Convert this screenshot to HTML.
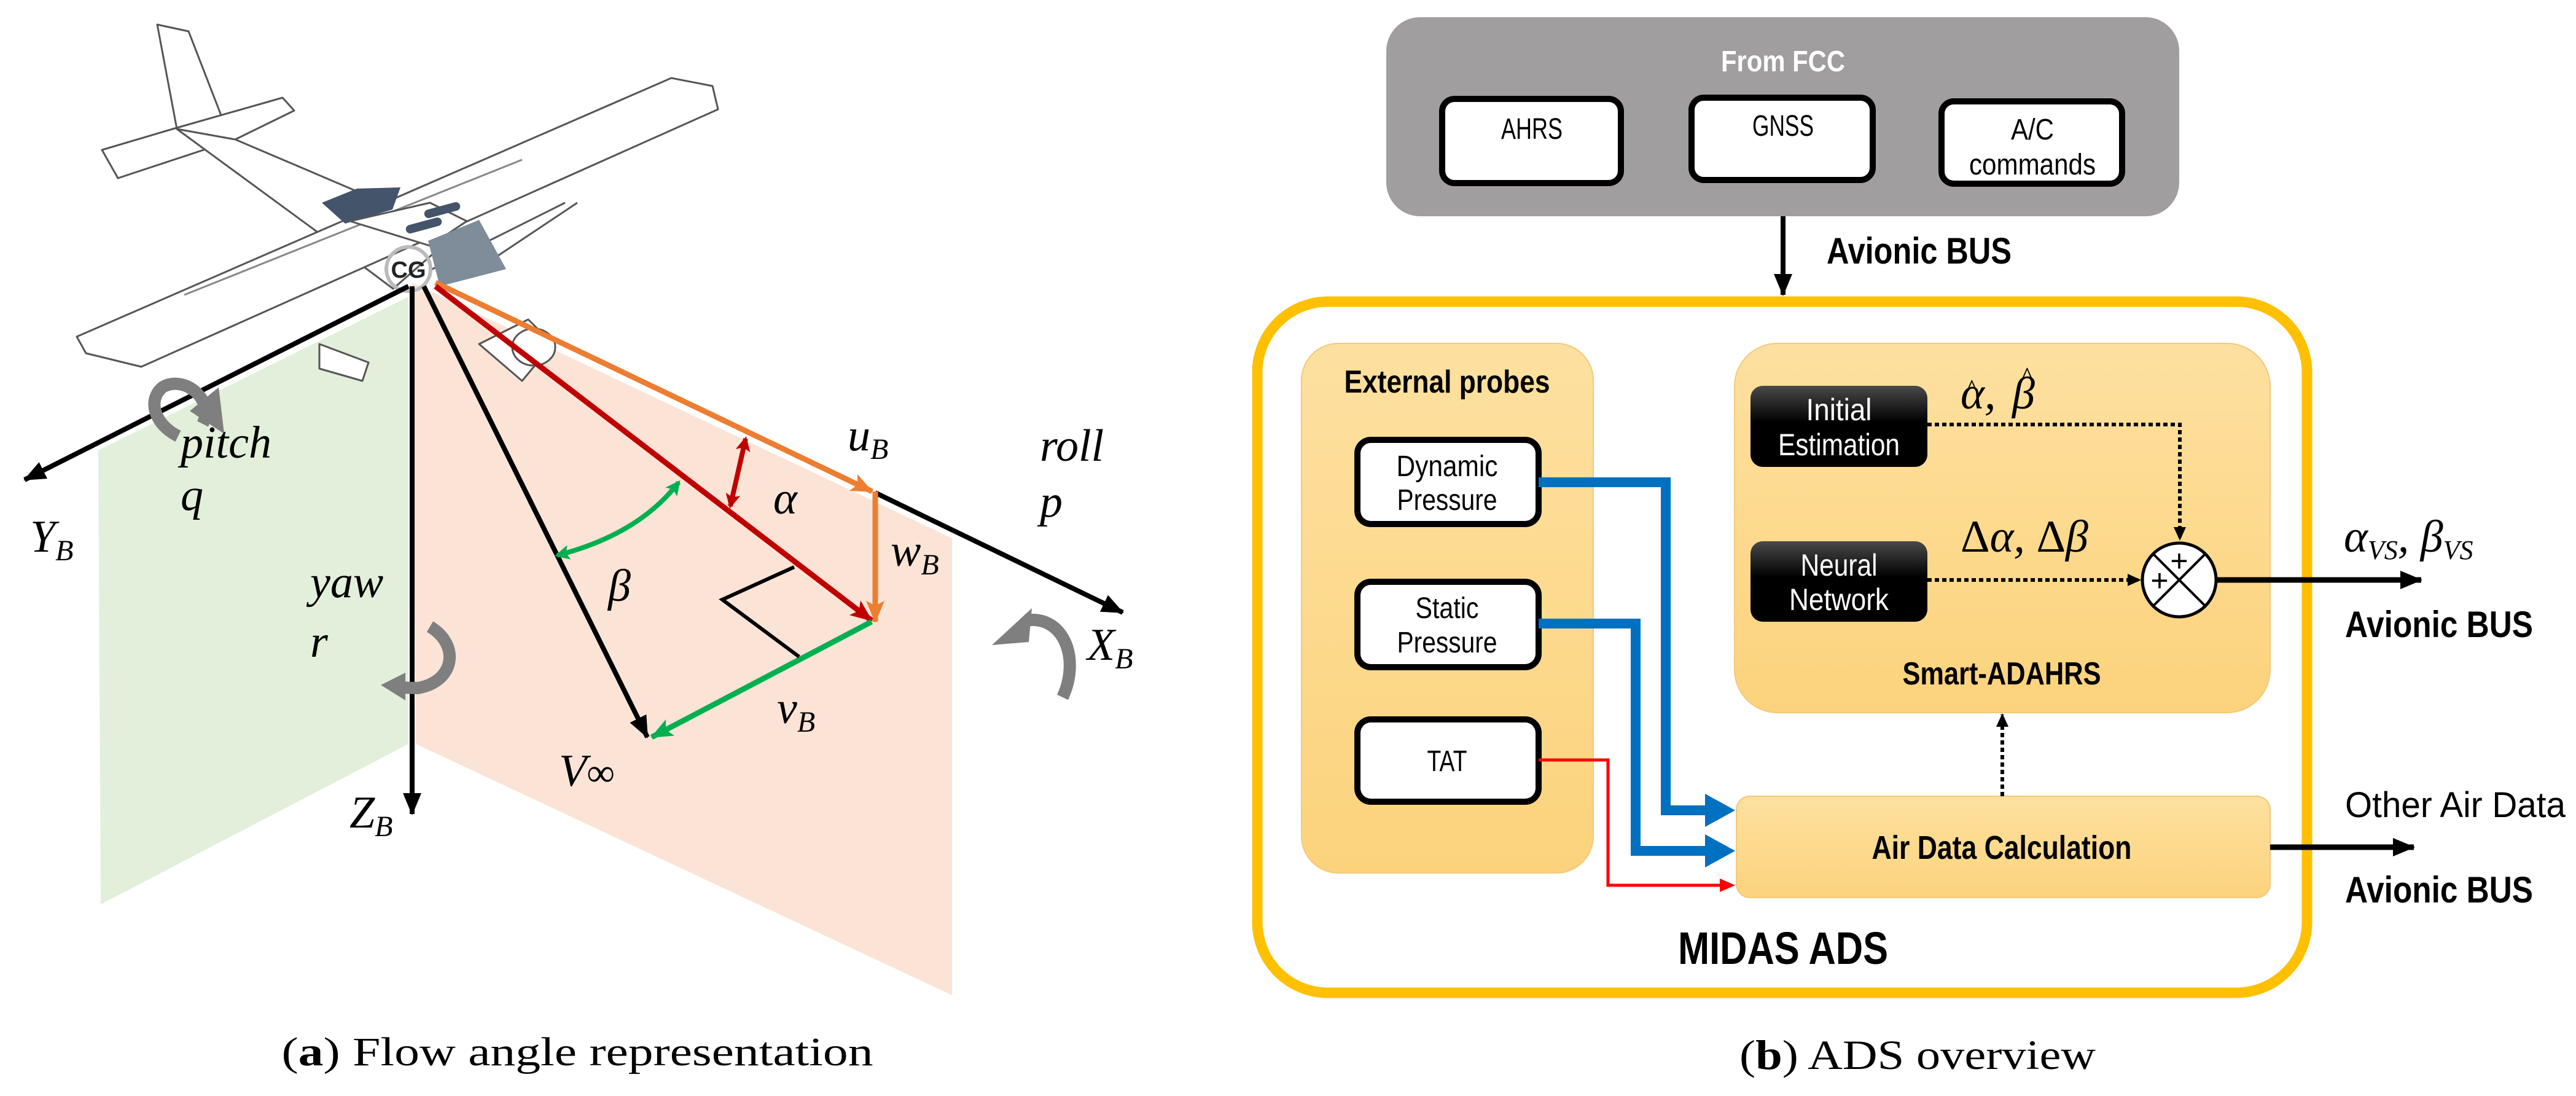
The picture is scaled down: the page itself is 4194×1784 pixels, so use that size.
<!DOCTYPE html>
<html><head><meta charset="utf-8"><style>
html,body{margin:0;padding:0;background:#fff;}
svg{display:block;}
.m{font-family:"Liberation Serif",serif;font-style:italic;font-size:74px;fill:#000;}
.s{font-family:"Liberation Sans",sans-serif;}
</style></head><body>
<svg width="4194" height="1784" viewBox="0 0 4194 1784" xmlns="http://www.w3.org/2000/svg">
<defs>
<marker id="ak" markerUnits="userSpaceOnUse" markerWidth="40" markerHeight="40" refX="34" refY="15" orient="auto"><path d="M0,0 L36,15 L0,30 Z" fill="#000"/></marker>
<marker id="ao" markerUnits="userSpaceOnUse" markerWidth="40" markerHeight="40" refX="34" refY="15" orient="auto"><path d="M0,0 L36,15 L0,30 L8,15 Z" fill="#ed7d31"/></marker>
<marker id="ar" markerUnits="userSpaceOnUse" markerWidth="40" markerHeight="40" refX="34" refY="15" orient="auto"><path d="M0,0 L36,15 L0,30 L8,15 Z" fill="#c00000"/></marker>
<marker id="ar2" markerUnits="userSpaceOnUse" markerWidth="40" markerHeight="40" refX="20" refY="12" orient="auto-start-reverse"><path d="M0,0 L24,12 L0,24 L5,12 Z" fill="#c00000"/></marker>
<marker id="ag" markerUnits="userSpaceOnUse" markerWidth="40" markerHeight="40" refX="34" refY="15" orient="auto"><path d="M0,0 L36,15 L0,30 L8,15 Z" fill="#00b050"/></marker>
<marker id="ag2" markerUnits="userSpaceOnUse" markerWidth="40" markerHeight="40" refX="20" refY="12" orient="auto-start-reverse"><path d="M0,0 L24,12 L0,24 L5,12 Z" fill="#00b050"/></marker>
<marker id="ad" markerUnits="userSpaceOnUse" markerWidth="30" markerHeight="30" refX="20" refY="10" orient="auto"><path d="M0,0 L22,10 L0,20 Z" fill="#000"/></marker>
<linearGradient id="yp" x1="0" y1="0" x2="0" y2="1"><stop offset="0" stop-color="#fde0a0"/><stop offset="1" stop-color="#fcd37c"/></linearGradient>
<linearGradient id="bk" x1="0" y1="0" x2="0" y2="1"><stop offset="0" stop-color="#4a4a4a"/><stop offset="0.45" stop-color="#000"/><stop offset="1" stop-color="#000"/></linearGradient>
</defs>

<!-- LEFT PANEL -->
<polygon points="160,733 665,483 665,1211 164,1472" fill="#e2efda"/>
<polygon points="671,460 1550,876 1550,1620 677,1211" fill="#fbe4d6"/>

<!-- airplane -->
<g stroke="#555" stroke-width="3" fill="#fff" stroke-linejoin="round">
<polygon points="256,40 307,51 371,216 288,210"/>
<polygon points="166,244 281,210 460,159 479,180 383,227 192,290"/>
<polygon points="288,210 383,227 660,345 720,400 640,470 520,380"/>
<polygon points="125,548 1093,127 1160,140 1169,178 230,597 140,575"/>
<line x1="300" y1="480" x2="850" y2="260" stroke="#888"/>
<line x1="700" y1="440" x2="920" y2="330" stroke="#555"/>
<line x1="760" y1="450" x2="940" y2="330" stroke="#555"/>
<path d="M780,560 L860,520 L900,560 L850,620 Z"/>
<ellipse cx="869" cy="565" rx="35" ry="30"/>
<path d="M520,560 L600,590 L590,620 L520,600 Z"/>
</g>
<polygon points="524,330 581,307 652,305 639,341 562,364" fill="#44546a"/>
<polygon points="570,360 700,330 760,360 700,400" fill="#fff" stroke="#555" stroke-width="3"/>
<rect x="660" y="360" width="60" height="14" rx="7" fill="#44546a" transform="rotate(-15 690 367)"/>
<rect x="690" y="335" width="60" height="14" rx="7" fill="#44546a" transform="rotate(-15 720 342)"/>
<polygon points="697,392 780,358 824,438 716,466" fill="#7f8c99"/>
<circle cx="665" cy="438" r="36" fill="none" stroke="#bbb" stroke-width="6"/>
<text x="665" y="452" text-anchor="middle" class="s" font-weight="bold" font-size="38" fill="#222">CG</text>

<!-- axes -->
<line x1="665" y1="466" x2="40" y2="781" stroke="#000" stroke-width="8" marker-end="url(#ak)"/>
<line x1="671" y1="466" x2="671" y2="1325" stroke="#000" stroke-width="8" marker-end="url(#ak)"/>
<line x1="1425" y1="802" x2="1828" y2="997" stroke="#000" stroke-width="8" marker-end="url(#ak)"/>
<line x1="690" y1="466" x2="1054" y2="1200" stroke="#000" stroke-width="8" marker-end="url(#ak)"/>
<line x1="709" y1="460" x2="1420" y2="800" stroke="#ed7d31" stroke-width="9" marker-end="url(#ao)"/>
<line x1="1425" y1="800" x2="1425" y2="1012" stroke="#ed7d31" stroke-width="9" marker-end="url(#ao)"/>
<line x1="709" y1="466" x2="1419" y2="1010" stroke="#c00000" stroke-width="9" marker-end="url(#ar)"/>
<line x1="1419" y1="1012" x2="1061" y2="1200" stroke="#00b050" stroke-width="9" marker-end="url(#ag)"/>
<polyline points="1293,923 1176,976 1301,1069" fill="none" stroke="#000" stroke-width="6"/>
<line x1="1214" y1="714" x2="1189" y2="824" stroke="#c00000" stroke-width="8" marker-start="url(#ar2)" marker-end="url(#ar2)"/>
<path d="M1105,785 Q1040,870 907,904" fill="none" stroke="#00b050" stroke-width="8" marker-start="url(#ag2)" marker-end="url(#ag2)"/>

<!-- rotation arrows -->
<g fill="none" stroke="#7f7f7f" stroke-width="20">
<path d="M330,690 C350,650 300,610 265,630 C240,650 250,690 290,710"/>
<path d="M700,1020 C750,1050 740,1110 680,1120 C650,1120 640,1115 640,1115"/>
<path d="M1730,1135 C1760,1070 1730,1000 1670,1010"/>
</g>
<polygon points="350,710 380,640 320,650" fill="#7f7f7f" transform="rotate(-30 350 680)"/>
<polygon points="660,1095 620,1115 660,1140" fill="#7f7f7f"/>
<polygon points="1680,990 1615,1050 1675,1045" fill="#7f7f7f"/>

<!-- left labels -->
<text class="m" x="294" y="745">pitch</text>
<text class="m" x="294" y="830">q</text>
<text class="m" x="505" y="972">yaw</text>
<text class="m" x="505" y="1069">r</text>
<text class="m" x="49" y="898">Y<tspan font-size="48" dy="14">B</tspan></text>
<text class="m" x="569" y="1347">Z<tspan font-size="48" dy="14">B</tspan></text>
<text class="m" x="1770" y="1074">X<tspan font-size="48" dy="14">B</tspan></text>
<text class="m" x="1693" y="750">roll</text>
<text class="m" x="1693" y="841">p</text>
<text class="m" x="1380" y="733">u<tspan font-size="48" dy="14">B</tspan></text>
<text class="m" x="1450" y="921">w<tspan font-size="48" dy="14">B</tspan></text>
<text class="m" x="1265" y="1177">v<tspan font-size="48" dy="14">B</tspan></text>
<text class="m" x="1259" y="836">α</text>
<text class="m" x="990" y="978">β</text>
<text class="m" x="910" y="1279">V<tspan font-style="normal" font-size="64">∞</tspan></text>
<text x="940" y="1734" text-anchor="middle" font-family="Liberation Serif,serif" font-size="66" textLength="963" lengthAdjust="spacingAndGlyphs">(<tspan font-weight="bold">a</tspan>) Flow angle representation</text>

<!-- RIGHT PANEL -->
<rect x="2257" y="28" width="1291" height="324" rx="55" fill="#a09e9f"/>
<text x="2903" y="116" text-anchor="middle" class="s" font-weight="bold" font-size="48" fill="#fff" textLength="202" lengthAdjust="spacingAndGlyphs">From FCC</text>
<g fill="#fff" stroke="#000" stroke-width="10">
<rect x="2348" y="161" width="291" height="137" rx="20"/>
<rect x="2754" y="159" width="295" height="134" rx="20"/>
<rect x="3161" y="165" width="294" height="134" rx="20"/>
</g>
<g class="s" font-size="48" text-anchor="middle">
<text x="2494" y="226" textLength="100" lengthAdjust="spacingAndGlyphs">AHRS</text>
<text x="2903" y="221" textLength="100" lengthAdjust="spacingAndGlyphs">GNSS</text>
<text x="3309" y="227" textLength="70" lengthAdjust="spacingAndGlyphs">A/C</text>
<text x="3309" y="284" textLength="206" lengthAdjust="spacingAndGlyphs">commands</text>
</g>
<line x1="2903" y1="352" x2="2903" y2="480" stroke="#000" stroke-width="8" marker-end="url(#ak)"/>
<text x="2974" y="429" class="s" font-weight="bold" font-size="60" textLength="301" lengthAdjust="spacingAndGlyphs">Avionic BUS</text>

<rect x="2047" y="491" width="1709" height="1125" rx="115" fill="#fff" stroke="#ffc000" stroke-width="17"/>
<rect x="2119" y="559" width="475" height="862" rx="60" fill="url(#yp)" stroke="#f5c87a" stroke-width="2"/>
<rect x="2824" y="559" width="872" height="601" rx="70" fill="url(#yp)" stroke="#f5c87a" stroke-width="2"/>
<rect x="2827" y="1296" width="869" height="165" rx="22" fill="url(#yp)" stroke="#f5c87a" stroke-width="2"/>

<text x="2356" y="639" text-anchor="middle" class="s" font-weight="bold" font-size="52" textLength="335" lengthAdjust="spacingAndGlyphs">External probes</text>
<g fill="#fff" stroke="#000" stroke-width="10">
<rect x="2210" y="716" width="295" height="137" rx="22"/>
<rect x="2210" y="947" width="295" height="139" rx="22"/>
<rect x="2210" y="1171" width="295" height="134" rx="22"/>
</g>
<g class="s" font-size="48" text-anchor="middle">
<text x="2356" y="775" textLength="165" lengthAdjust="spacingAndGlyphs">Dynamic</text>
<text x="2356" y="830" textLength="163" lengthAdjust="spacingAndGlyphs">Pressure</text>
<text x="2356" y="1006" textLength="103" lengthAdjust="spacingAndGlyphs">Static</text>
<text x="2356" y="1062" textLength="163" lengthAdjust="spacingAndGlyphs">Pressure</text>
<text x="2356" y="1255" textLength="65" lengthAdjust="spacingAndGlyphs">TAT</text>
</g>

<rect x="2850" y="628" width="288" height="132" rx="20" fill="url(#bk)"/>
<rect x="2850" y="881" width="288" height="131" rx="20" fill="url(#bk)"/>
<g class="s" font-size="50" text-anchor="middle" fill="#fff">
<text x="2994" y="684" textLength="107" lengthAdjust="spacingAndGlyphs">Initial</text>
<text x="2994" y="741" textLength="198" lengthAdjust="spacingAndGlyphs">Estimation</text>
<text x="2994" y="937" textLength="125" lengthAdjust="spacingAndGlyphs">Neural</text>
<text x="2994" y="993" textLength="162" lengthAdjust="spacingAndGlyphs">Network</text>
</g>
<text class="m" x="3192" y="665" font-size="64">α,</text>
<text x="3200" y="648" font-family="Liberation Serif,serif" font-size="44">^</text>
<text class="m" x="3276" y="665" font-size="64">β</text>
<text x="3290" y="628" font-family="Liberation Serif,serif" font-size="44">^</text>
<text class="m" x="3192" y="898" font-size="64"><tspan font-style="normal">Δ</tspan>α,  <tspan font-style="normal">Δ</tspan>β</text>
<polyline points="3138,691 3549,691 3549,878" fill="none" stroke="#000" stroke-width="6" stroke-dasharray="7,5" marker-end="url(#ad)"/>
<line x1="3138" y1="944" x2="3484" y2="944" stroke="#000" stroke-width="6" stroke-dasharray="7,5" marker-end="url(#ad)"/>
<circle cx="3548" cy="944" r="60" fill="#fff" stroke="#000" stroke-width="5"/>
<line x1="3506" y1="902" x2="3590" y2="986" stroke="#000" stroke-width="4"/>
<line x1="3590" y1="902" x2="3506" y2="986" stroke="#000" stroke-width="4"/>
<text x="3548" y="930" text-anchor="middle" class="s" font-size="50">+</text>
<text x="3516" y="962" text-anchor="middle" class="s" font-size="50">+</text>
<line x1="3608" y1="944" x2="3942" y2="944" stroke="#000" stroke-width="9" marker-end="url(#ak)"/>
<text class="m" x="3816" y="898" font-size="64">α<tspan font-size="44" dy="12">VS</tspan><tspan dy="-12">,  β</tspan><tspan font-size="44" dy="12">VS</tspan></text>
<text x="3818" y="1037" class="s" font-weight="bold" font-size="60" textLength="306" lengthAdjust="spacingAndGlyphs">Avionic BUS</text>
<text x="3259" y="1114" text-anchor="middle" class="s" font-weight="bold" font-size="52" textLength="323" lengthAdjust="spacingAndGlyphs">Smart-ADAHRS</text>
<line x1="3260" y1="1296" x2="3260" y2="1163" stroke="#000" stroke-width="6" stroke-dasharray="7,5" marker-end="url(#ad)"/>
<text x="3259" y="1398" text-anchor="middle" class="s" font-weight="bold" font-size="54" textLength="423" lengthAdjust="spacingAndGlyphs">Air Data Calculation</text>
<line x1="3696" y1="1379" x2="3930" y2="1379" stroke="#000" stroke-width="9" marker-end="url(#ak)"/>
<text x="3818" y="1330" class="s" font-size="58" textLength="359" lengthAdjust="spacingAndGlyphs">Other Air Data</text>
<text x="3818" y="1469" class="s" font-weight="bold" font-size="60" textLength="306" lengthAdjust="spacingAndGlyphs">Avionic BUS</text>
<text x="2903" y="1569" text-anchor="middle" class="s" font-weight="bold" font-size="74" textLength="342" lengthAdjust="spacingAndGlyphs">MIDAS ADS</text>

<!-- connectors -->
<polyline points="2505,785 2712,785 2712,1319 2780,1319" fill="none" stroke="#0070c0" stroke-width="16"/>
<polygon points="2776,1292 2825,1319 2776,1346" fill="#0070c0"/>
<polyline points="2505,1015 2663,1015 2663,1385 2780,1385" fill="none" stroke="#0070c0" stroke-width="16"/>
<polygon points="2776,1358 2825,1385 2776,1412" fill="#0070c0"/>
<polyline points="2505,1237 2618,1237 2618,1441 2800,1441" fill="none" stroke="#ff0000" stroke-width="5"/>
<polygon points="2800,1430 2825,1441 2800,1452" fill="#ff0000"/>

<text x="3122" y="1740" text-anchor="middle" font-family="Liberation Serif,serif" font-size="68" textLength="580" lengthAdjust="spacingAndGlyphs">(<tspan font-weight="bold">b</tspan>) ADS overview</text>
</svg>
</body></html>
